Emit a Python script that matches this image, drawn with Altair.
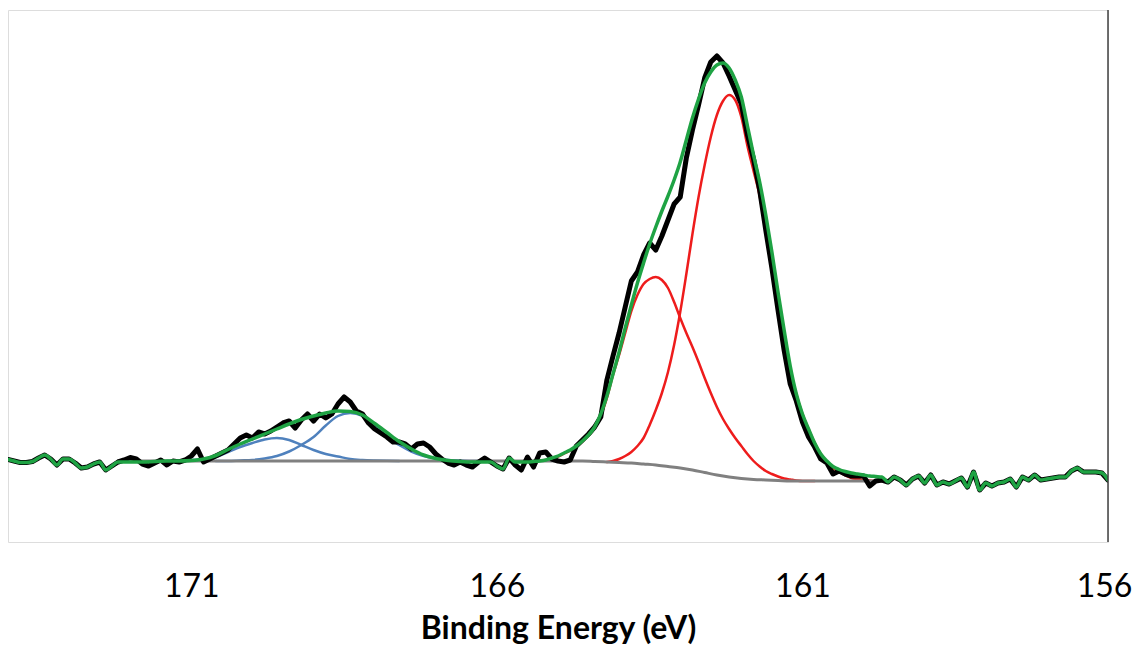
import altair as alt
import pandas as pd

# ---------------- data ----------------
# raw spectrum, 0.1 eV steps from 174.0 down to 156.0 eV
energy_raw = [round(174.0 - 0.1 * i, 1) for i in range(181)]
counts_raw = [
    # 174.0 -> 170.6
    82.5, 81, 79.5, 79.5, 80.5, 84, 87, 83, 77, 83,
    83, 79, 74, 75, 78, 80, 72, 76, 80, 82,
    84.5, 83, 78, 76, 79, 82, 77, 81, 80, 82,
    86, 93, 80, 83, 86,
    # 170.5 -> 166.6
    89, 92, 98, 104, 107, 104, 110, 108, 111, 115,
    119, 121, 114, 122, 128, 121, 128, 124, 128, 138,
    145, 140, 131, 128, 119, 113, 109, 105, 100, 100,
    98, 93, 98, 99, 95, 88, 83, 79, 77, 80,
    # 166.5 -> 164.4
    77, 75, 80, 84, 80, 76, 73, 84, 77, 72,
    85, 75, 89, 90, 83, 81, 80, 82, 96, 102,
    108, 115,
    # 164.3 -> 159.7
    125, 162, 186, 209, 235, 261, 270, 287, 299, 292,
    306, 322, 338, 345, 384, 412, 437, 464, 480, 486,
    479, 466, 452, 438, 407, 383, 352, 312, 274, 232,
    192, 158, 141, 120, 105, 95, 83, 79, 68, 71,
    68, 66, 66, 66, 56, 61, 62,
    # 159.6 -> 156.0
    60, 65, 62, 57, 63, 66, 59, 67, 57, 60,
    58, 61, 64, 55, 70, 52, 59, 56, 59, 60,
    63, 55, 65, 62, 67, 62, 63, 64, 65, 65,
    71, 74, 70, 70, 70, 69, 62,
]

# fitted envelope, S 2p (oxidised) region, 0.2 eV steps 172.2 -> 166.2
fit_s_energy = [round(172.2 - 0.2 * i, 1) for i in range(31)]
fit_s_value = [
    80, 80, 80, 80.5, 81, 81, 81.5, 83, 86.5, 92.5,
    98, 103, 108, 113, 118, 122.5, 126, 129, 131, 130.5,
    127, 118.5, 109.5, 100.5, 93, 87, 83.5, 81.5, 80.5, 80,
    80,
]
# fitted envelope, sulfide region, 0.1 eV steps 165.7 -> 159.7
fit_main_energy = [round(165.7 - 0.1 * i, 1) for i in range(61)]
fit_main_value = [
    80, 80, 80, 80.5, 81, 82, 84, 86, 89, 92,
    96, 101, 107, 115, 128, 146, 168, 190, 214, 237,
    259, 279, 298, 315, 331, 346, 362, 380, 402, 424,
    443, 459, 470, 477, 479, 474, 462, 445, 416, 387,
    360, 327, 290, 250, 212, 176, 148, 128, 113, 99,
    88, 81, 75.5, 72.5, 70.5, 69, 68, 67, 66, 65.5,
    65,
]

# component peaks
blue1_energy = [round(171.4 - 0.2 * i, 1) for i in range(20)]
blue1_value = [81, 81.5, 82, 83, 85, 90, 95, 99, 102.5, 104,
               102, 97, 92, 88, 85.5, 83, 82, 81.5, 81.2, 81]
blue2_energy = [round(170.6 - 0.2 * i, 1) for i in range(23)]
blue2_value = [81, 81, 81.5, 82, 83.5, 86, 90.5, 97, 105, 116.5,
               126, 129, 126, 116.5, 105, 97, 90.5, 86, 83.5, 82,
               81.5, 81, 81]
red1_energy = [round(164.2 - 0.1 * i, 1) for i in range(46)]
red1_value = [80, 81, 83, 86, 90, 96, 104, 117, 132, 149,
              170, 197, 230, 268, 308, 345, 377, 405, 427, 441,
              447, 442, 425, 396, 371, 346, 310, 274, 238, 204,
              171, 148, 128, 113, 99, 88, 80, 74, 70, 66.5,
              64, 63, 62, 61.5, 61, 61]
red2_energy = [round(165.4 - 0.1 * i, 1) for i in range(47)]
red2_value = [81, 81.5, 82, 83.5, 85.5, 88.5, 91.5, 95.5, 100.5, 106.5,
              114, 126, 144, 167, 187, 209, 231, 247, 258, 263,
              265, 262, 254, 240, 224, 209, 195, 180, 164, 149,
              135, 123, 113, 104, 96, 88, 81, 75.5, 71, 68,
              65.5, 63.5, 62.5, 61.5, 61, 61, 61]

# Shirley-type background
bg_energy = [172.2, 164.6, 164.4, 164.2, 164.0, 163.8, 163.6, 163.4, 163.2, 163.0,
             162.8, 162.6, 162.4, 162.2, 162.0, 161.8, 161.6, 161.4, 161.2, 161.0, 159.6]
bg_value = [81, 81, 80.5, 80, 79.5, 79, 78, 77, 75.5, 74,
            72, 69.5, 67, 65, 63.5, 62.5, 62, 61.5, 61, 61, 61]

tick_values = [171, 166, 161, 156]

# ---------------- build tables ----------------
def idx(e):
    return round((174.0 - e) * 10)

env_energy = (energy_raw[idx(174.0):idx(172.3) + 1] + fit_s_energy
              + energy_raw[idx(166.1):idx(165.8) + 1] + fit_main_energy
              + energy_raw[idx(159.6):])
env_value = (counts_raw[idx(174.0):idx(172.3) + 1] + fit_s_value
             + counts_raw[idx(166.1):idx(165.8) + 1] + fit_main_value
             + counts_raw[idx(159.6):])

raw_df = pd.DataFrame({"energy": energy_raw, "value": counts_raw})
env_df = pd.DataFrame({"energy": env_energy, "value": env_value})
b1_df = pd.DataFrame({"energy": blue1_energy, "value": blue1_value})
b2_df = pd.DataFrame({"energy": blue2_energy, "value": blue2_value})
r1_df = pd.DataFrame({"energy": red1_energy, "value": red1_value})
r2_df = pd.DataFrame({"energy": red2_energy, "value": red2_value})
bg_df = pd.DataFrame({"energy": bg_energy, "value": bg_value})
edge_df = pd.DataFrame({"energy": [156.0]})

x_scale = alt.Scale(domain=[156, 174], reverse=True, nice=False, zero=False)
y_scale = alt.Scale(domain=[0, 532], nice=False, zero=False)

x_enc = alt.X(
    "energy:Q",
    scale=x_scale,
    axis=alt.Axis(
        values=tick_values,
        title="Binding Energy (eV)",
        ticks=False,
        tickSize=0,
        domain=False,
        grid=False,
        labelFlush=False,
        labelFont="Lato",
        labelFontSize=32,
        labelColor="#000000",
        labelPadding=29,
        labelOffset={"condition": {"test": "datum.value === 156", "value": -4}, "value": 0},
        titleFont="Lato",
        titleFontSize=32,
        titleFontWeight="bold",
        titleColor="#000000",
        titlePadding=11,
    ),
)
y_enc = alt.Y("value:Q", scale=y_scale, axis=None)


def line(df, color, width, interp):
    return alt.Chart(df).mark_line(
        color=color, strokeWidth=width, interpolate=interp, clip=True,
        strokeJoin="round", strokeCap="round"
    ).encode(x=x_enc, y=y_enc)


blue1 = line(b1_df, "#4F81BD", 2.5, "monotone")
blue2 = line(b2_df, "#4F81BD", 2.5, "monotone")
red1 = line(r1_df, "#EE1C1C", 2.5, "monotone")
red2 = line(r2_df, "#EE1C1C", 2.5, "monotone")
bg = line(bg_df, "#808080", 3, "monotone")
raw = line(raw_df, "#000000", 5, "linear")
env = line(env_df, "#1FA344", 3.5, "monotone")
edge = alt.Chart(edge_df).mark_rule(color="#404040", strokeWidth=1.5).encode(x=x_enc)

chart = alt.layer(blue1, blue2, red1, red2, bg, raw, env, edge).properties(
    width=1100,
    height=532,
    padding={"left": 0, "top": 2, "right": 24, "bottom": 108},
    autosize=alt.AutoSizeParams(type="none"),
).configure_view(
    stroke="#8C8C8C", strokeWidth=1.5
).configure(background="#ffffff")

chart.save("out.html", embed_options={"renderer": "svg", "actions": False})
